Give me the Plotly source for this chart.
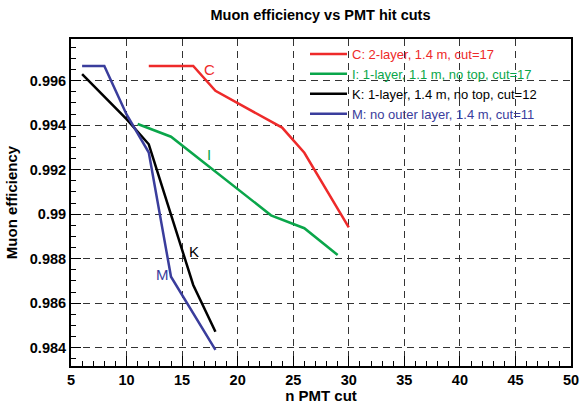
import plotly.graph_objects as go

# Data
c_x = [12, 16, 18, 24, 26, 30]
c_y = [0.99666, 0.99666, 0.99554, 0.99389, 0.99276, 0.98941]

i_x = [11, 14, 23, 26, 29]
i_y = [0.99405, 0.99348, 0.98995, 0.98937, 0.98817]

k_x = [6, 10, 12, 14, 16, 18]
k_y = [0.99629, 0.99427, 0.99314, 0.99000, 0.98682, 0.98472]

m_x = [6, 8, 10, 12, 14, 18]
m_y = [0.99666, 0.99666, 0.99448, 0.99277, 0.98719, 0.98390]

names = ["C: 2-layer, 1.4 m, cut=17",
         "I: 1-layer, 1.1 m, no top, cut=17",
         "K: 1-layer, 1.4 m, no top, cut=12",
         "M: no outer layer, 1.4 m, cut=11"]
colors = ["#ee2a2a", "#0aa64a", "#000000", "#3a3d9c"]
labels = ["C", "I", "K", "M"]
label_x = [17.5, 17.4, 16.1, 13.2]
label_y = [0.99648, 0.99266, 0.98832, 0.98727]

xs = [c_x, i_x, k_x, m_x]
ys = [c_y, i_y, k_y, m_y]

FONT = "Liberation Sans, Arial, Helvetica, sans-serif"

fig = go.Figure()
for x, y, n, col in zip(xs, ys, names, colors):
    fig.add_trace(go.Scatter(
        x=x, y=y, mode="lines",
        line=dict(color=col, width=2.5),
        name=f"<span style='color:{col}'>{n}</span>",
    ))

for lab, lx, ly, col in zip(labels, label_x, label_y, colors):
    fig.add_annotation(x=lx, y=ly, text=lab, showarrow=False,
                       font=dict(family=FONT, size=15, color=col),
                       xanchor="center", yanchor="middle")

fig.update_layout(
    width=580, height=404,
    margin=dict(l=71, r=9, t=39, b=38, autoexpand=False),
    paper_bgcolor="white", plot_bgcolor="white",
    font=dict(family=FONT, color="black"),
    title=dict(text="<b>Muon efficiency vs PMT hit cuts</b>",
               x=(320.5) / 580, xanchor="center", y=1 - 15 / 404, yanchor="middle",
               font=dict(size=14.5, family=FONT)),
    showlegend=True,
    legend=dict(x=(305 - 71) / 500, xanchor="left", y=1, yanchor="top",
                bgcolor="rgba(0,0,0,0)", font=dict(size=13, family=FONT),
                tracegroupgap=0, itemwidth=37),
)

fig.update_xaxes(
    range=[5, 50], tickmode="linear", tick0=5, dtick=5,
    ticks="inside", ticklen=10, tickwidth=1, tickcolor="black",
    minor=dict(dtick=1, ticks="inside", ticklen=5, tickcolor="black", showgrid=False),
    showgrid=True, gridcolor="#333333", griddash="7px,5px", gridwidth=1,
    showline=True, linecolor="black", linewidth=2, mirror=True,
    zeroline=False, automargin=False,
    tickfont=dict(size=14.5, family=FONT),
    tickprefix="<b>", ticksuffix="</b>",
    title=dict(text="<b>n PMT cut</b>", font=dict(size=15, family=FONT), standoff=0),
)
fig.update_yaxes(
    range=[0.98318, 0.99787], tickmode="linear", tick0=0.984, dtick=0.002,
    ticks="inside", ticklen=10, tickwidth=1, tickcolor="black",
    minor=dict(dtick=0.0005, ticks="inside", ticklen=5, tickcolor="black", showgrid=False),
    showgrid=True, gridcolor="#333333", griddash="7px,5px", gridwidth=1,
    showline=True, linecolor="black", linewidth=2, mirror=True,
    zeroline=False, automargin=False,
    tickformat="~g",
    tickfont=dict(size=14.5, family=FONT),
    tickprefix="<b>", ticksuffix="</b>",
    title=dict(text="<b>Muon efficiency</b>", font=dict(size=15, family=FONT), standoff=9),
)

fig.write_html("out.html", config={"displayModeBar": False},
               post_script="document.body.style.margin='0';")
